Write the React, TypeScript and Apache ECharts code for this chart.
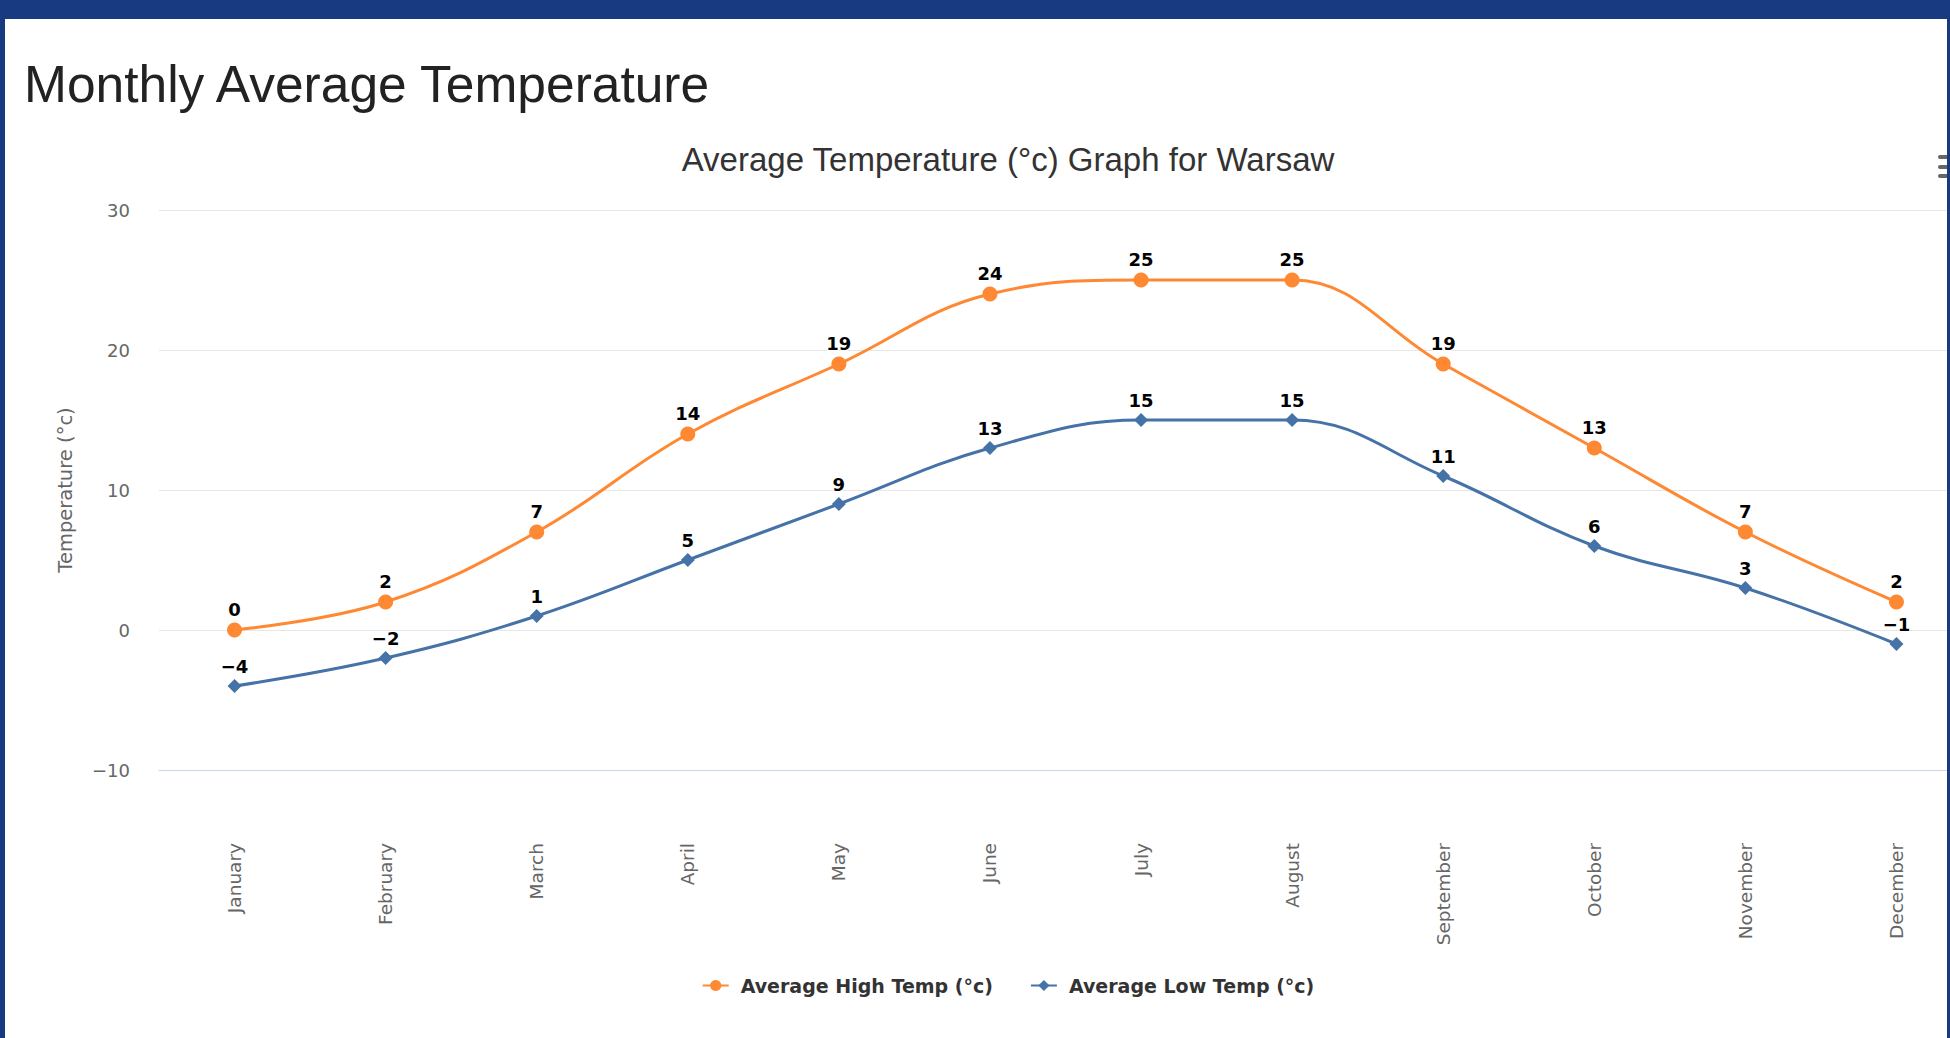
import React, { useEffect, useRef } from "react";
import * as echarts from "echarts";

const months = ["January", "February", "March", "April", "May", "June", "July", "August", "September", "October", "November", "December"];
const highTemps = [0, 2, 7, 14, 19, 24, 25, 25, 19, 13, 7, 2];
const lowTemps = [-4, -2, 1, 5, 9, 13, 15, 15, 11, 6, 3, -1];
const yTicks = { min: -10, max: 30, interval: 10 };
const pageTitle = "Monthly Average Temperature";
const chartTitle = "Average Temperature (°c) Graph for Warsaw";
const yAxisTitle = "Temperature (°c)";
const seriesNames = ["Average High Temp (°c)", "Average Low Temp (°c)"];

const ORANGE = "#ff8833";
const BLUE = "#4572a7";
const BORDER = "#173a80";
const CHART_W = 2016;
const CHART_H = 1038;

const minus = (v: number | string) => {
  const n = Number(v);
  return n < 0 ? "\u2212" + Math.abs(n) : String(n);
};

export default function App() {
  const ref = useRef<HTMLDivElement>(null);

  useEffect(() => {
    if (!ref.current) return;
    const chart = echarts.init(ref.current, undefined, { renderer: "svg" });
    const labelStyle = {
      show: true,
      position: "top" as const,
      distance: 4,
      color: "#000",
      fontFamily: "DejaVu Sans",
      fontWeight: "bold" as const,
      fontSize: 18,
      textBorderColor: "#fff",
      textBorderWidth: 2,
      formatter: (p: any) => minus(p.value),
    };
    chart.setOption({
      animation: false,
      backgroundColor: "#fff",
      title: [
        {
          text: pageTitle,
          left: 24,
          top: 58,
          padding: 0,
          textStyle: { fontFamily: "Liberation Sans", fontSize: 51.5, fontWeight: "normal", color: "#222" },
        },
        {
          text: chartTitle,
          left: "center",
          top: 143,
          padding: 0,
          textStyle: { fontFamily: "Liberation Sans", fontSize: 33, fontWeight: "normal", color: "#333" },
        },
      ],
      legend: {
        top: 971,
        left: "center",
        itemGap: 37,
        itemWidth: 26,
        itemHeight: 14,
        textStyle: {
          fontFamily: "DejaVu Sans",
          fontWeight: "bold",
          fontSize: 19,
          color: "#333",
          padding: [0, 0, 0, 7],
        },
        data: seriesNames,
      },
      grid: { left: 159, right: CHART_W - 1972, top: 210, bottom: CHART_H - 770, containLabel: false },
      xAxis: {
        type: "category",
        data: months,
        boundaryGap: true,
        axisLine: { onZero: false, lineStyle: { color: "#ccd6eb", width: 1 } },
        axisTick: { show: false },
        axisLabel: {
          rotate: 90,
          margin: 73,
          color: "#666",
          fontFamily: "DejaVu Sans",
          fontSize: 18.5,
          interval: 0,
        },
        splitLine: { show: false },
      },
      yAxis: {
        type: "value",
        min: yTicks.min,
        max: yTicks.max,
        interval: yTicks.interval,
        name: yAxisTitle,
        nameLocation: "middle",
        nameGap: 84,
        nameTextStyle: { color: "#666", fontFamily: "DejaVu Sans", fontSize: 19.5 },
        axisLine: { show: false },
        axisTick: { show: false },
        axisLabel: {
          margin: 29,
          color: "#666",
          fontFamily: "DejaVu Sans",
          fontSize: 18,
          formatter: (v: number) => minus(v),
        },
        splitLine: { lineStyle: { color: "#e6e6e6", width: 1 } },
      },
      series: [
        {
          name: seriesNames[0],
          type: "line",
          data: highTemps,
          smooth: 0.4,
          symbol: "circle",
          symbolSize: 15,
          lineStyle: { color: ORANGE, width: 3 },
          itemStyle: { color: ORANGE },
          label: labelStyle,
          z: 3,
        },
        {
          name: seriesNames[1],
          type: "line",
          data: lowTemps,
          smooth: 0.4,
          symbol: "diamond",
          symbolSize: 14,
          lineStyle: { color: BLUE, width: 3 },
          itemStyle: { color: BLUE },
          label: labelStyle,
          z: 2,
        },
      ],
      graphic: [
        { type: "rect", z: 90, shape: { x: 1938, y: 155, width: 14, height: 4, r: 2 }, style: { fill: "#666" } },
        { type: "rect", z: 90, shape: { x: 1938, y: 165, width: 14, height: 4, r: 2 }, style: { fill: "#666" } },
        { type: "rect", z: 90, shape: { x: 1938, y: 174, width: 14, height: 4, r: 2 }, style: { fill: "#666" } },
        { type: "rect", z: 100, shape: { x: 0, y: 0, width: CHART_W, height: 19 }, style: { fill: BORDER } },
        { type: "rect", z: 100, shape: { x: 0, y: 0, width: 5, height: CHART_H }, style: { fill: BORDER } },
        { type: "rect", z: 100, shape: { x: 1947, y: 0, width: CHART_W - 1947, height: CHART_H }, style: { fill: BORDER } },
      ],
    });
    return () => chart.dispose();
  }, []);

  return (
    <div style={{ position: "fixed", left: 0, top: 0, width: 1950, height: 1038, overflow: "hidden", background: BORDER }}>
      <div ref={ref} style={{ position: "absolute", left: 0, top: 0, width: CHART_W, height: CHART_H }} />
    </div>
  );
}
